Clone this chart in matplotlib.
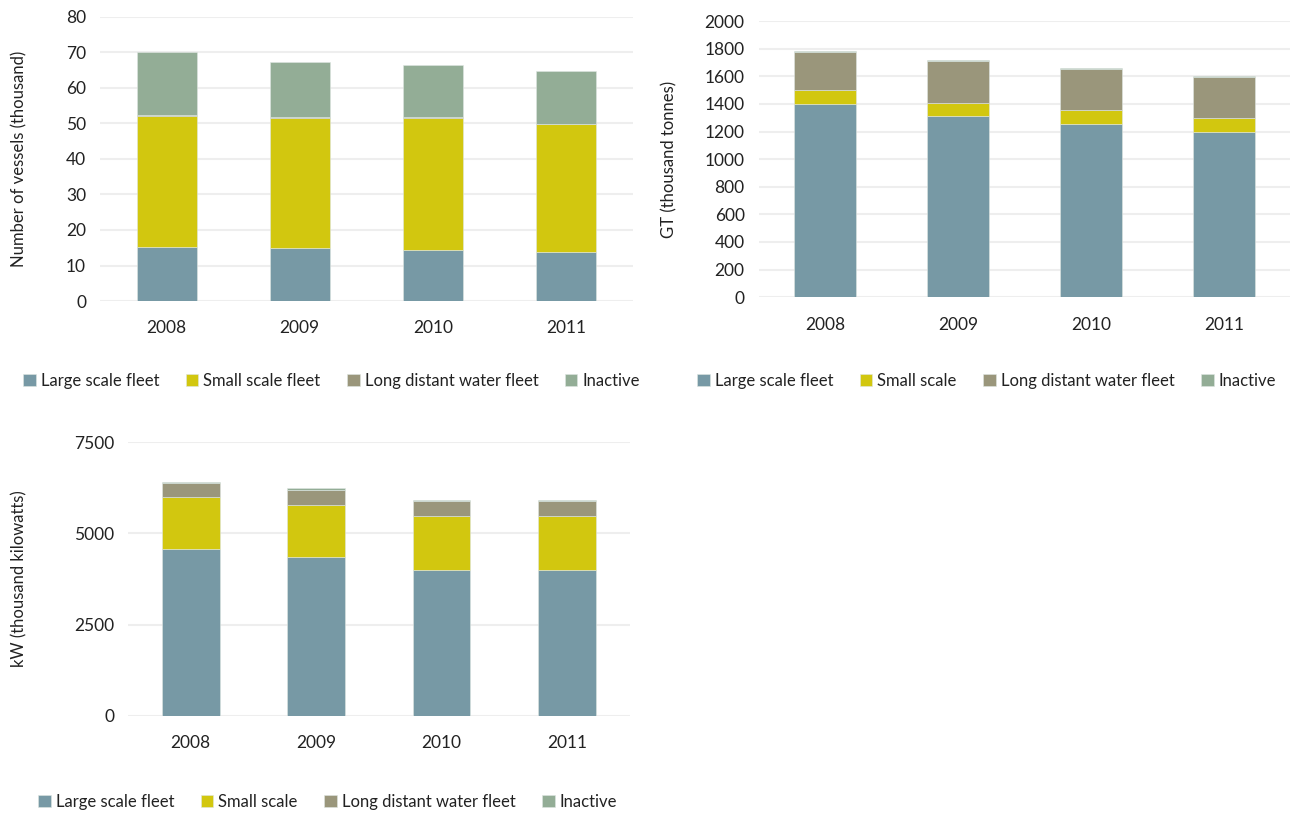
import matplotlib.pyplot as plt
import numpy as np

plt.rcParams['font.family'] = ['Lato', 'DejaVu Sans']

years = ['2008', '2009', '2010', '2011']

# Number of vessels (thousand)
vessels_large = [15.1, 14.9, 14.3, 13.8]
vessels_small = [37.0, 36.6, 37.3, 36.0]
vessels_long = [0.2, 0.3, 0.2, 0.1]
vessels_inactive = [17.7, 15.6, 14.8, 15.0]

# GT (thousand tonnes)
gt_large = [1402, 1311, 1258, 1200]
gt_small = [99, 96, 99, 99]
gt_long = [277, 306, 296, 299]
gt_inactive = [5, 5, 7, 2]

# kW (thousand kilowatts)
kw_large = [4578, 4342, 3996, 4005]
kw_small = [1429, 1438, 1465, 1465]
kw_long = [383, 418, 419, 410]
kw_inactive = [27, 37, 27, 27]

colors = ['#7799a5', '#d2c70f', '#9a967b', '#93ad96']
labels_a = ['Large scale fleet', 'Small scale fleet', 'Long distant water fleet', 'Inactive']
labels_b = ['Large scale fleet', 'Small scale', 'Long distant water fleet', 'Inactive']

fig = plt.figure(figsize=(12.9, 8.14), dpi=100)


def stacked(ax, series, labels, ylim, yticks, ylabel, width, label_x):
    x = np.arange(len(years))
    bottom = np.zeros(len(years))
    handles = []
    for vals, col, lab in zip(series, colors, labels):
        h = ax.bar(x, vals, width, bottom=bottom, color=col, label=lab,
                   edgecolor='#dfe6e2', linewidth=0.4, zorder=3)
        handles.append(h)
        bottom += np.array(vals)
    ax.set_xlim(-0.5, len(years) - 0.5)
    ax.set_ylim(*ylim)
    ax.set_yticks(yticks)
    ax.set_xticks(x)
    ax.set_xticklabels(years)
    ax.yaxis.grid(True, color='#eeeeee', linewidth=1.5, zorder=0)
    ax.set_axisbelow(True)
    for s in ax.spines.values():
        s.set_visible(False)
    ax.tick_params(length=0, labelsize=12.5, colors='#222222')
    ax.tick_params(axis='x', pad=14)
    ax.tick_params(axis='y', pad=10)
    ax.set_ylabel(ylabel, fontsize=12, color='#222222')
    ax.yaxis.set_label_coords(label_x, 0.5)
    return handles


ax1 = fig.add_axes([0.0775, 0.6302, 0.413, 0.349])
h1 = stacked(ax1, [vessels_large, vessels_small, vessels_long, vessels_inactive],
             labels_a, (0, 80), range(0, 81, 10), 'Number of vessels (thousand)', 0.45, -0.137)

ax2 = fig.add_axes([0.588, 0.635, 0.4124, 0.339])
h2 = stacked(ax2, [gt_large, gt_small, gt_long, gt_inactive],
             labels_b, (0, 2000), range(0, 2001, 200), 'GT (thousand tonnes)', 0.46, -0.152)

ax3 = fig.add_axes([0.0992, 0.1204, 0.389, 0.3366])
h3 = stacked(ax3, [kw_large, kw_small, kw_long, kw_inactive],
             labels_b, (0, 7500), range(0, 7501, 2500), 'kW (thousand kilowatts)', 0.46, -0.201)

leg_kw = dict(ncol=4, frameon=False, fontsize=12, handlelength=0.75, handleheight=0.75,
              handletextpad=0.3, columnspacing=1.6, loc='center', labelcolor='#222222')
fig.legend(h1, labels_a, bbox_to_anchor=(0.257, 0.532), **leg_kw)
fig.legend(h2, labels_b, bbox_to_anchor=(0.765, 0.532), **leg_kw)
fig.legend(h3, labels_b, bbox_to_anchor=(0.254, 0.0147), **leg_kw)

fig.savefig('out.png', dpi=100)
